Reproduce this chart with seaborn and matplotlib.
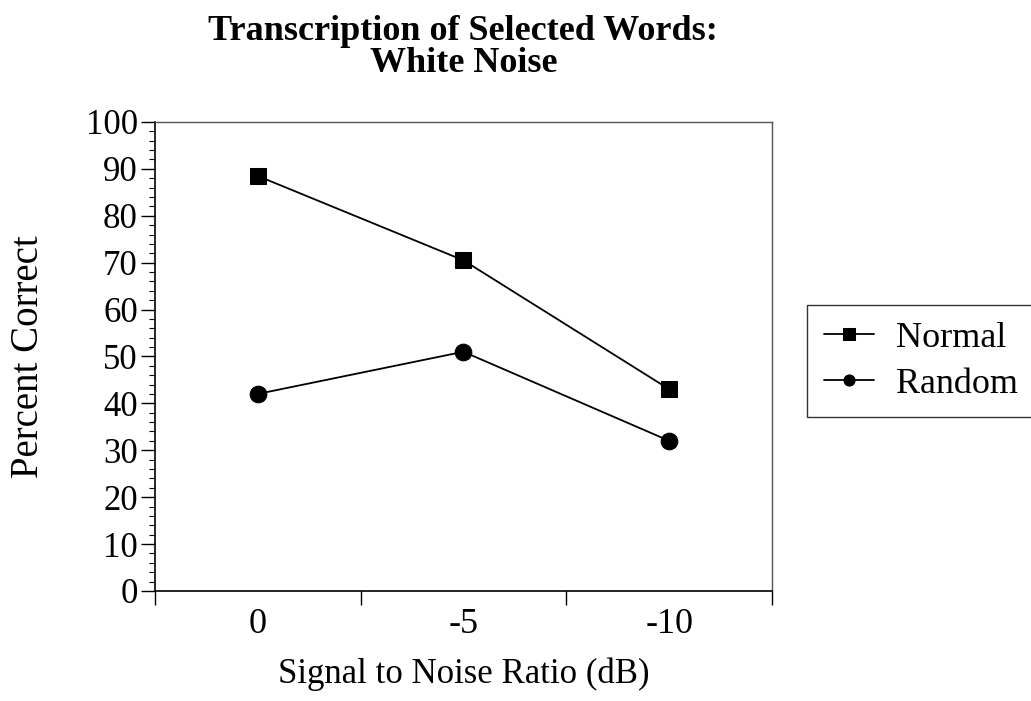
import numpy as np
import pandas as pd
import matplotlib
matplotlib.use("Agg")
import matplotlib.pyplot as plt
from matplotlib.ticker import MultipleLocator, FixedLocator
import seaborn as sns

# data
snr_labels = ["0", "-5", "-10"]
normal_pct = [88.5, 70.5, 43.0]
random_pct = [42.0, 51.0, 32.0]

df = pd.DataFrame({
    "snr": snr_labels * 2,
    "pct": normal_pct + random_pct,
    "cond": ["Normal"] * 3 + ["Random"] * 3,
})

sns.set_theme(style="white")
plt.rcParams["font.family"] = ["Liberation Serif", "DejaVu Serif"]
plt.rcParams["text.color"] = "black"
plt.rcParams["axes.labelcolor"] = "black"
plt.rcParams["xtick.color"] = "black"
plt.rcParams["ytick.color"] = "black"

fig = plt.figure(figsize=(10.31, 7.01), dpi=100)
ax = fig.add_axes([0.150, 0.157, 0.599, 0.669])

sns.lineplot(data=df, x="snr", y="pct", hue="cond", style="cond",
             markers={"Normal": "s", "Random": "o"}, dashes=False,
             palette={"Normal": "black", "Random": "black"},
             markersize=12, linewidth=1.3, markeredgecolor="black",
             ax=ax, sort=False)

ax.set_xlim(-0.5, 2.5)
ax.set_ylim(0, 100)

ax.yaxis.set_major_locator(MultipleLocator(10))
ax.yaxis.set_minor_locator(MultipleLocator(2))
ax.tick_params(axis="y", which="major", direction="out", length=10, width=1,
               left=True, labelsize=25, pad=2, color="black", labelcolor="black")
ax.tick_params(axis="y", which="minor", direction="out", length=4, width=0.8,
               left=True, color="black")

ax.set_xticks([0, 1, 2])
ax.set_xticklabels(snr_labels)
ax.xaxis.set_minor_locator(FixedLocator([-0.5, 0.5, 1.5, 2.5]))
ax.tick_params(axis="x", which="major", length=0, labelsize=26, pad=12,
               labelcolor="black")
ax.tick_params(axis="x", which="minor", direction="out", length=10, width=1,
               bottom=True, color="black")

for s in ["left", "bottom"]:
    ax.spines[s].set_color("black")
    ax.spines[s].set_linewidth(1.2)
for s in ["top", "right"]:
    ax.spines[s].set_color("#555555")
    ax.spines[s].set_linewidth(1.0)

ax.set_xlabel("Signal to Noise Ratio (dB)", fontsize=25, labelpad=12, color="black")
ax.set_ylabel("Percent Correct", fontsize=28, labelpad=28, color="black")
ax.set_title("Transcription of Selected Words:\nWhite Noise",
             fontsize=26, fontweight="bold", pad=36, linespacing=0.97,
             color="black")

leg = ax.legend(loc="center left", bbox_to_anchor=(1.057, 0.49), fontsize=26,
                frameon=True, fancybox=False, edgecolor="black",
                handlelength=1.4, borderpad=0.45, labelspacing=0.35,
                handletextpad=0.6, borderaxespad=0)
leg.get_frame().set_linewidth(1.0)
for t in leg.get_texts():
    t.set_color("black")
for h in leg.legend_handles:
    h.set_markersize(8)

fig.savefig("out.png", dpi=100)
